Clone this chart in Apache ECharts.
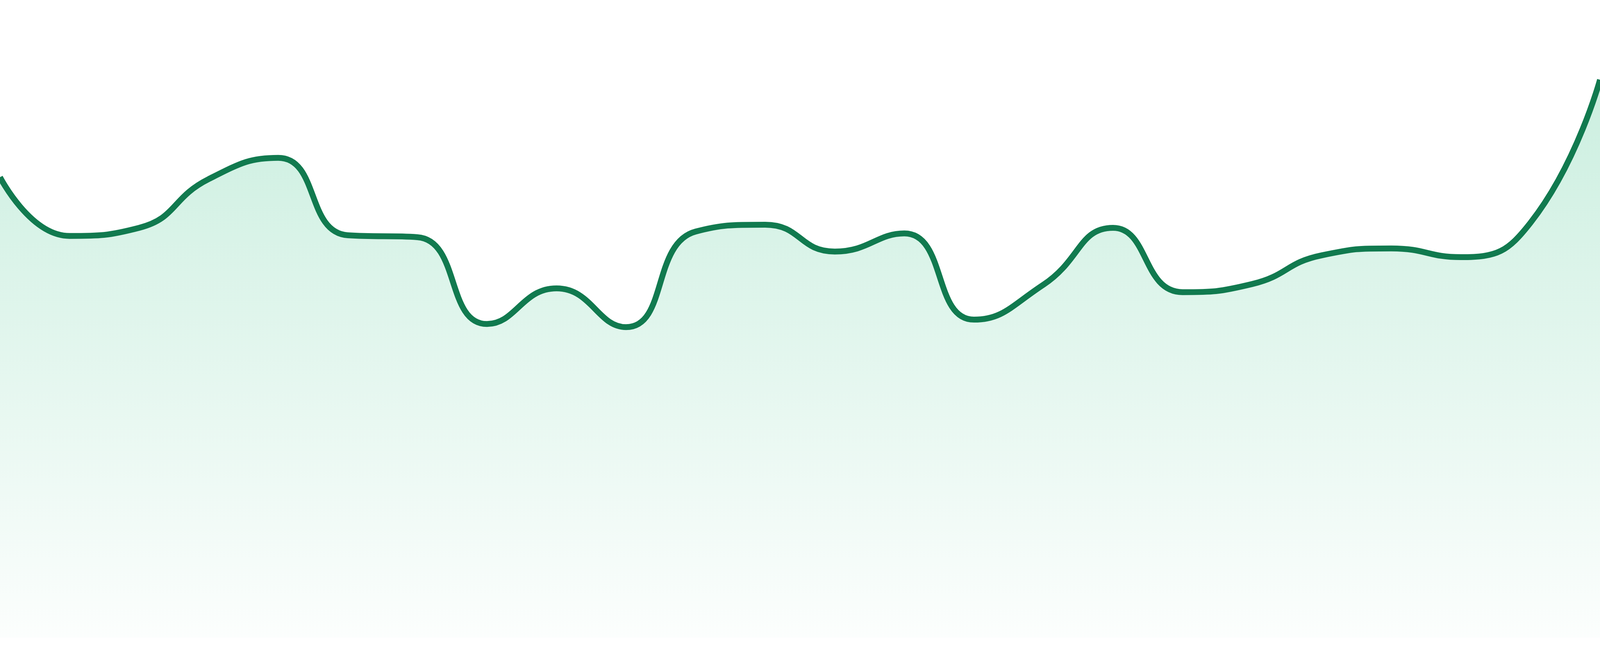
<!DOCTYPE html>
<html>
<head>
<meta charset="utf-8">
<style>
  html, body { margin: 0; padding: 0; width: 100%; height: 100%; overflow: hidden; background: #ffffff; }
  #chart { width: 100vw; height: 100vh; }
</style>
<script src="https://cdn.jsdelivr.net/npm/echarts@6/dist/echarts.min.js"></script>
</head>
<body>
<div id="chart"></div>
<script>
const categories = ['1','2','3','4','5','6','7','8','9','10','11','12','13','14','15','16','17','18','19','20','21','22','23','24'];
const values = [73.7, 64.3, 65.6, 73.4, 76.8, 64.4, 64.1, 50.2, 55.9, 49.7, 65.0, 66.1, 61.8, 64.7, 50.9, 56.5, 65.6, 55.3, 56.6, 61.2, 62.3, 60.9, 66.4, 89.3];
const yMin = 0;
const yMax = 100;

const el = document.getElementById('chart');
const chart = echarts.init(el);
const H = el.clientHeight;
chart.setOption({
  animation: false,
  backgroundColor: '#ffffff',
  grid: { left: 0, right: 0, top: H * 33 / 1680, bottom: H * 47 / 1680 },
  xAxis: {
    type: 'category',
    data: categories,
    boundaryGap: false,
    show: false
  },
  yAxis: {
    type: 'value',
    min: yMin,
    max: yMax,
    show: false,
    splitLine: { show: false }
  },
  series: [{
    type: 'line',
    data: values,
    smooth: true,
    symbol: 'none',
    lineStyle: { color: '#117a4f', width: 15 * H / 1680 },
    areaStyle: {
      color: new echarts.graphic.LinearGradient(0, 0, 0, 1, [
        { offset: 0, color: 'rgba(16,180,110,0.31)' },
        { offset: 1, color: 'rgba(16,180,110,0.02)' }
      ])
    }
  }]
});
</script>
</body>
</html>
